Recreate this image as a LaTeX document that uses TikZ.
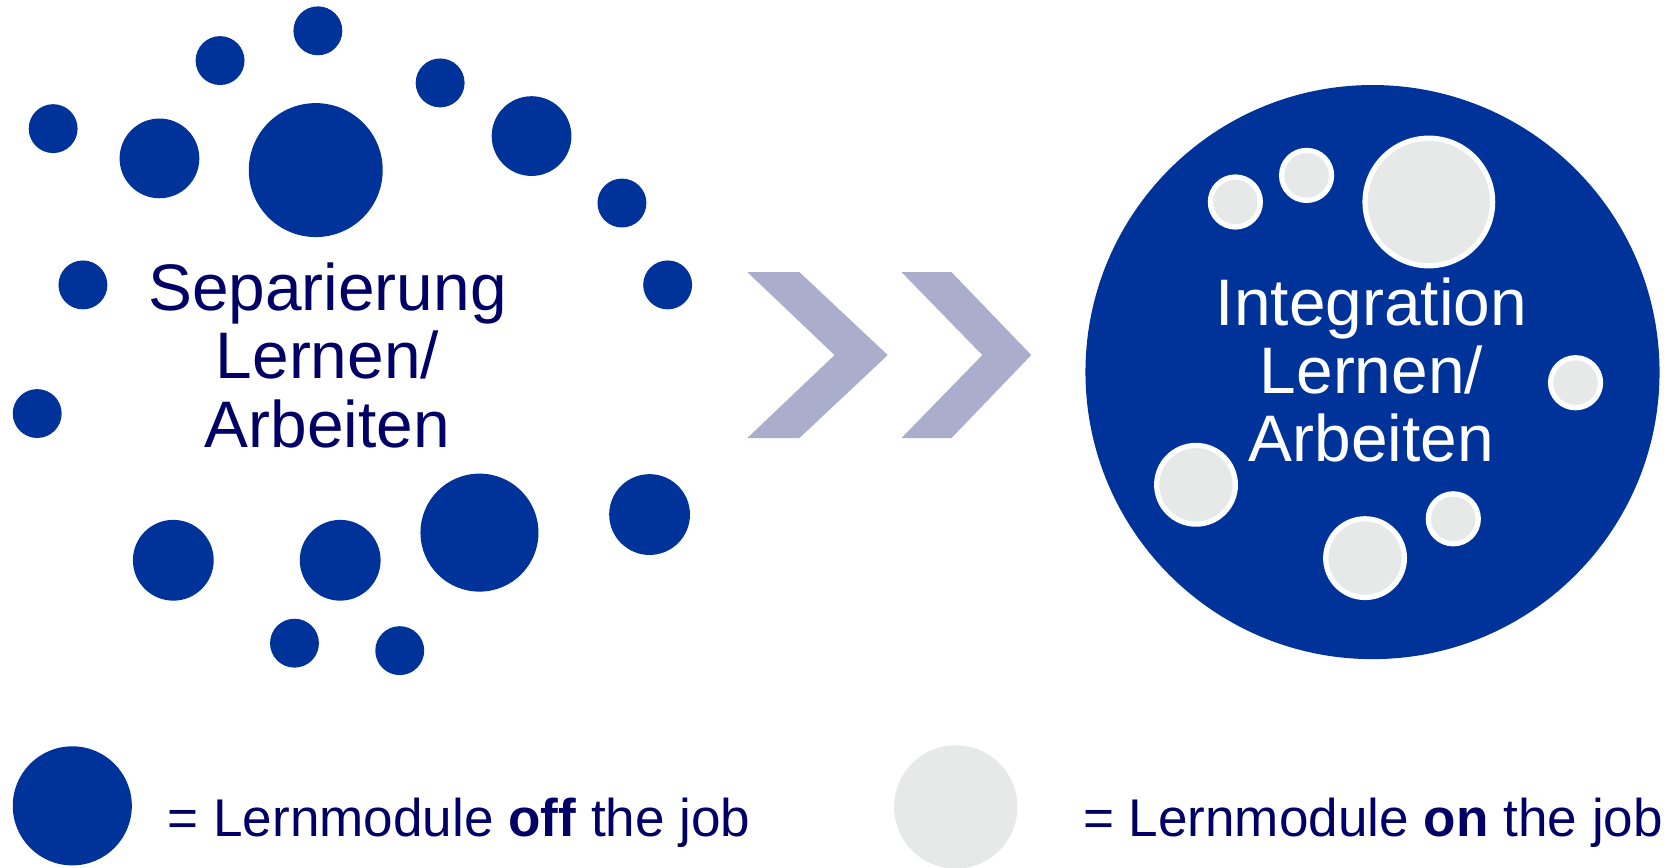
\documentclass[tikz,border=0pt]{standalone}
\usepackage{fontspec}
\setmainfont{Liberation Sans}
\definecolor{modblue}{RGB}{0,51,153}
\definecolor{textnavy}{RGB}{0,0,102}
\definecolor{modgray}{RGB}{231,233,232}
\definecolor{chevgray}{RGB}{170,173,204}
\tikzset{
  offjob/.style={fill=modblue},
  onjob/.style={fill=modgray,draw=white,line width=1.4pt},
  chevron/.style={fill=chevgray},
  bigtext/.style={align=center,inner sep=0pt,font=\fontsize{17.6}{18.3}\selectfont},
  legtext/.style={anchor=base west,inner sep=0pt,text=textnavy,font=\fontsize{14.2}{17}\selectfont}
}
\begin{document}
\begin{tikzpicture}[x=0.01cm,y=-0.01cm]
    \useasboundingbox (0,0) rectangle (1568,816);
    % Separierung: einzelne Module
    \foreach \x/\y/\r in {299/29/23,207/57/23,414/78/23,50/121/23,585/191/23,78/268/23,628/268/23,35/389/23,277/605/23,376/612/23}
    \fill[offjob] (\x,\y) circle (\r);
    \foreach \x/\y/\r in {150/149/37.5,500/128/37.5,163/527/38,320/527/38,611/484/38,451/501/55.5,297/160/63}
    \fill[offjob] (\x,\y) circle (\r);
    \node[bigtext,text=textnavy] (sep) at (308,334) {Separierung\\Lernen/\\Arbeiten};
    % Pfeile
    \fill[chevron] (703,256) -- (752,256) -- (835,334) -- (752,412) -- (703,412) -- (785,334) -- cycle;
    \fill[chevron] (848,256) -- (895,256) -- (970,334) -- (895,412) -- (848,412) -- (924,334) -- cycle;
    % Integration
    \fill[offjob] (1291,350) circle (270);
    \foreach \x/\y/\r in {1162/190/23.5,1229/165/23.5,1482/360/23.5,1367/488/23.5,1125/456/37,1284/525/37,1344/190/60}
    \draw[onjob] (\x,\y) circle (\r);
    \node[bigtext,text=white] (integ) at (1290,348) {Integration\\Lernen/\\Arbeiten};
    % Legende
    \fill[offjob] (68,758) circle (56);
    \fill[modgray] (899,759) circle (58);
    \node[legtext] (offleg) at (157,787) {= Lernmodule \textbf{off} the job};
    \node[legtext] (onleg) at (1018,787) {= Lernmodule \textbf{on} the job};
  \end{tikzpicture}
\end{document}
